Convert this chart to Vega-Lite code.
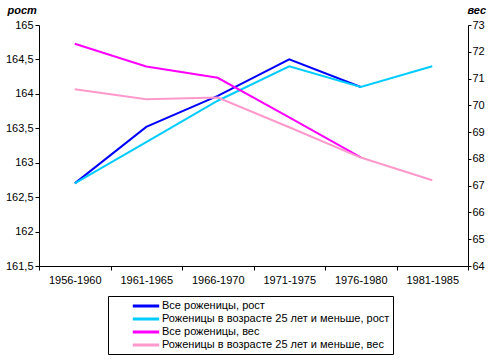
{
  "$schema": "https://vega.github.io/schema/vega-lite/v6.json",
  "width": 429,
  "height": 241,
  "autosize": {"type": "none"},
  "padding": {"left": 39, "top": 25, "right": 25, "bottom": 94},
  "background": "white",
  "config": {
    "font": "Liberation Sans",
    "view": {"stroke": null},
    "axis": {
      "labelFont": "Liberation Sans",
      "labelFontSize": 11,
      "labelColor": "black",
      "domainColor": "black",
      "tickColor": "black",
      "grid": false,
      "tickSize": 4,
      "titleFont": "Liberation Sans",
      "titleFontSize": 11,
      "titleFontWeight": "bold",
      "titleFontStyle": "italic",
      "titleColor": "black"
    }
  },
  "data": {
    "values": [
      {"period": "1956-1960", "series": "Все роженицы, рост", "measure": "рост", "value": 162.7},
      {"period": "1961-1965", "series": "Все роженицы, рост", "measure": "рост", "value": 163.52},
      {"period": "1966-1970", "series": "Все роженицы, рост", "measure": "рост", "value": 163.97},
      {"period": "1971-1975", "series": "Все роженицы, рост", "measure": "рост", "value": 164.5},
      {"period": "1976-1980", "series": "Все роженицы, рост", "measure": "рост", "value": 164.1},
      {"period": "1956-1960", "series": "Роженицы в возрасте 25 лет и меньше, рост", "measure": "рост", "value": 162.7},
      {"period": "1961-1965", "series": "Роженицы в возрасте 25 лет и меньше, рост", "measure": "рост", "value": 163.3},
      {"period": "1966-1970", "series": "Роженицы в возрасте 25 лет и меньше, рост", "measure": "рост", "value": 163.9},
      {"period": "1971-1975", "series": "Роженицы в возрасте 25 лет и меньше, рост", "measure": "рост", "value": 164.4},
      {"period": "1976-1980", "series": "Роженицы в возрасте 25 лет и меньше, рост", "measure": "рост", "value": 164.1},
      {"period": "1981-1985", "series": "Роженицы в возрасте 25 лет и меньше, рост", "measure": "рост", "value": 164.4},
      {"period": "1956-1960", "series": "Все роженицы, вес", "measure": "вес", "value": 72.3},
      {"period": "1961-1965", "series": "Все роженицы, вес", "measure": "вес", "value": 71.45},
      {"period": "1966-1970", "series": "Все роженицы, вес", "measure": "вес", "value": 71.03},
      {"period": "1971-1975", "series": "Все роженицы, вес", "measure": "вес", "value": 69.55},
      {"period": "1976-1980", "series": "Все роженицы, вес", "measure": "вес", "value": 68.06},
      {"period": "1956-1960", "series": "Роженицы в возрасте 25 лет и меньше, вес", "measure": "вес", "value": 70.6},
      {"period": "1961-1965", "series": "Роженицы в возрасте 25 лет и меньше, вес", "measure": "вес", "value": 70.23},
      {"period": "1966-1970", "series": "Роженицы в возрасте 25 лет и меньше, вес", "measure": "вес", "value": 70.29},
      {"period": "1971-1975", "series": "Роженицы в возрасте 25 лет и меньше, вес", "measure": "вес", "value": 69.18},
      {"period": "1976-1980", "series": "Роженицы в возрасте 25 лет и меньше, вес", "measure": "вес", "value": 68.05},
      {"period": "1981-1985", "series": "Роженицы в возрасте 25 лет и меньше, вес", "measure": "вес", "value": 67.2}
    ]
  },
  "encoding": {
    "x": {
      "field": "period",
      "type": "ordinal",
      "scale": {"type": "band", "paddingInner": 0, "paddingOuter": 0},
      "axis": {"title": null, "labelAngle": 0, "tickBand": "extent", "labelPadding": 4}
    },
    "color": {
      "field": "series",
      "type": "nominal",
      "scale": {
        "domain": ["Все роженицы, рост", "Роженицы в возрасте 25 лет и меньше, рост", "Все роженицы, вес", "Роженицы в возрасте 25 лет и меньше, вес"],
        "range": ["#0000FF", "#00CCFF", "#FF00FF", "#FF99CC"]
      },
      "legend": {
        "title": null,
        "orient": "none",
        "legendX": 69,
        "legendY": 271,
        "direction": "vertical",
        "symbolType": "M-2.4,0H2.4",
        "symbolSize": 121,
        "symbolStrokeWidth": 3,
        "symbolOffset": 28,
        "labelOffset": 9,
        "labelFont": "Liberation Sans",
        "labelFontSize": 11,
        "labelColor": "black",
        "labelLimit": 400,
        "rowPadding": 0,
        "padding": 3,
        "strokeColor": "black",
        "fillColor": "white"
      }
    }
  },
  "layer": [
    {
      "transform": [{"filter": "datum.measure == 'рост'"}],
      "mark": {"type": "line", "strokeWidth": 2},
      "encoding": {
        "y": {
          "field": "value",
          "type": "quantitative",
          "scale": {"domain": [161.5, 165], "nice": false, "zero": false},
          "axis": {
            "values": [161.5, 162, 162.5, 163, 163.5, 164, 164.5, 165],
            "labelExpr": "replace(toString(datum.value), '.', ',')",
            "labelPadding": 2,
            "title": "рост",
            "titleAngle": 0,
            "titleAlign": "left",
            "titleBaseline": "middle",
            "titleX": -32,
            "titleY": -15
          }
        }
      }
    },
    {
      "transform": [{"filter": "datum.measure == 'вес'"}],
      "mark": {"type": "line", "strokeWidth": 2},
      "encoding": {
        "y": {
          "field": "value",
          "type": "quantitative",
          "scale": {"domain": [64, 73], "nice": false, "zero": false},
          "axis": {
            "orient": "right",
            "values": [64, 65, 66, 67, 68, 69, 70, 71, 72, 73],
            "labelPadding": 1,
            "tickSize": 3,
            "title": "вес",
            "titleAngle": 0,
            "titleAlign": "left",
            "titleBaseline": "middle",
            "titleX": -1,
            "titleY": -15
          }
        }
      }
    }
  ],
  "resolve": {"scale": {"y": "independent"}}
}
